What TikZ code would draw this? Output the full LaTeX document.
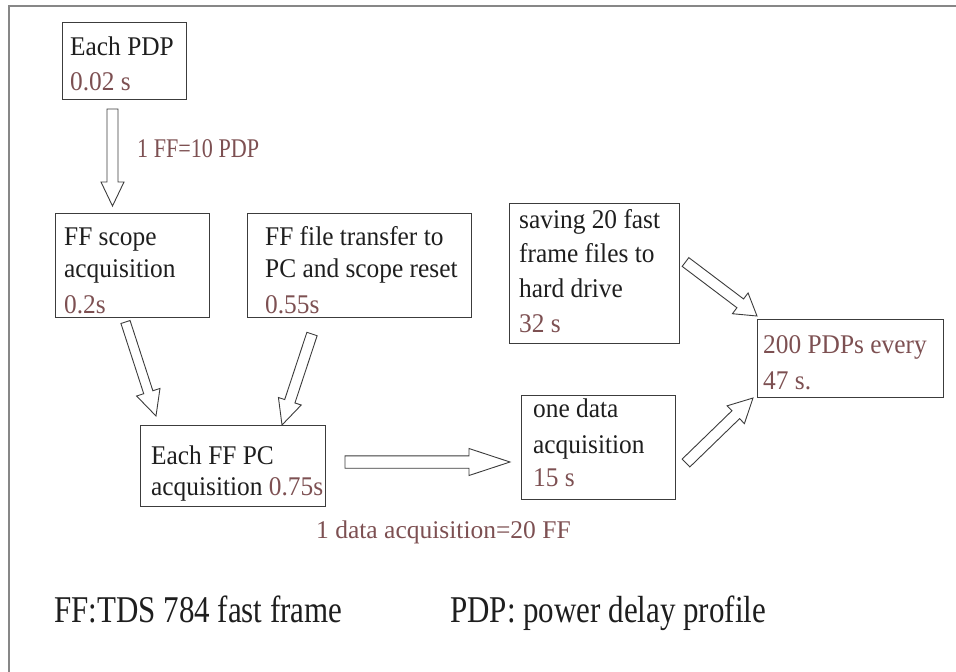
\documentclass[tikz,border=0pt]{standalone}
\usepackage{fontspec}
\setmainfont{Liberation Serif}
\newfontfamily\boxfont[FakeStretch=0.94]{Liberation Serif}
\newfontfamily\labfont[FakeStretch=0.82]{Liberation Serif}
\usetikzlibrary{calc}
\definecolor{brn}{RGB}{125,80,82}
\definecolor{txt}{RGB}{30,30,30}
\definecolor{edge}{RGB}{60,60,60}
\definecolor{framec}{RGB}{135,135,135}
\newcommand\hollowarrow[5]{%
  \coordinate (ha-b) at ($(#2)!#5!(#1)$);
  \draw[arrowline] ($(#1)!#3!90:(#2)$) -- ($(ha-b)!#3!90:(#2)$) -- ($(ha-b)!#4!90:(#2)$) -- (#2)
    -- ($(ha-b)!#4!-90:(#2)$) -- ($(ha-b)!#3!-90:(#2)$) -- ($(#1)!#3!-90:(#2)$) -- cycle;
}
\begin{document}
\begin{tikzpicture}[x=1pt,y=-1pt,
  boxr/.style={draw=edge, line width=1.2pt, inner sep=0pt, anchor=north west},
  btxt/.style={anchor=base west, inner sep=0pt, font=\boxfont\fontsize{27}{30}\selectfont, text=txt},
  bval/.style={btxt, text=brn},
  labtxt/.style={anchor=base west, inner sep=0pt, font=\labfont\fontsize{27}{30}\selectfont, text=brn},
  foot/.style={anchor=base west, inner sep=0pt, font=\labfont\fontsize{37.8}{40}\selectfont, text=txt},
  arrowline/.style={draw=edge, line width=0.9pt, fill=white, line join=miter},
  framel/.style={draw=framec, line width=2pt}
]
\useasboundingbox (0,0) rectangle (956,672);
\draw[framel] (957,6) -- (9,6) -- (9,673);

% boxes
\node[boxr, minimum width=124pt, minimum height=77pt] (b1) at (62,22) {};
\node[boxr, minimum width=154pt, minimum height=104pt] (b2) at (55,213) {};
\node[boxr, minimum width=224pt, minimum height=104pt] (b3) at (247,213) {};
\node[boxr, minimum width=185pt, minimum height=81pt] (b4) at (140,425) {};
\node[boxr, minimum width=154pt, minimum height=104pt] (b5) at (521,395) {};
\node[boxr, minimum width=170pt, minimum height=140pt] (b6) at (509,203) {};
\node[boxr, minimum width=186pt, minimum height=78pt] (b7) at (757,319) {};

% box texts
\node[btxt] (t1a) at (70,55) {Each PDP};
\node[bval] (t1b) at (70,90) {0.02 s};
\node[btxt] (t2a) at (64,245) {FF scope};
\node[btxt] (t2b) at (64,277) {acquisition};
\node[bval] (t2c) at (64,313) {0.2s};
\node[btxt] (t3a) at (265,245) {FF file transfer to};
\node[btxt] (t3b) at (265,277) {PC and scope reset};
\node[bval] (t3c) at (265,313) {0.55s};
\node[btxt] (t4a) at (151,464) {Each FF PC};
\node[btxt] (t4b) at (151,495) {acquisition \textcolor{brn}{0.75s}};
\node[btxt] (t5a) at (533,417) {one data};
\node[btxt] (t5b) at (533,453) {acquisition};
\node[bval] (t5c) at (533,486) {15 s};
\node[btxt] (t6a) at (519,228) {saving 20 fast};
\node[btxt] (t6b) at (519,262) {frame files to};
\node[btxt] (t6c) at (519,297) {hard drive};
\node[bval] (t6d) at (519,332) {32 s};
\node[bval] (t7a) at (763,353) {200 PDPs every};
\node[bval] (t7b) at (763,389) {47 s.};

% labels
\node[labtxt] (l1) at (137,157) {1 FF=10 PDP};
\node[anchor=base west, inner sep=0pt, font=\fontsize{25.5}{28}\selectfont, text=brn] (l2) at (316,538) {1 data acquisition=20 FF};
\node[foot] (f1) at (54,622) {FF:TDS 784 fast frame};
\node[foot] (f2) at (450,622) {PDP: power delay profile};

% arrow end points
\coordinate (a1s) at (112.5,109);  \coordinate (a1e) at (112.5,206);
\coordinate (a2s) at (125.5,322);  \coordinate (a2e) at (156,416);
\coordinate (a3s) at (312,334);    \coordinate (a3e) at (282,425);
\coordinate (a4s) at (345,462);    \coordinate (a4e) at (510,462);
\coordinate (a5s) at (685.5,262);  \coordinate (a5e) at (757,316);
\coordinate (a6s) at (686,463);    \coordinate (a6e) at (753,398);

\hollowarrow{a1s}{a1e}{5.5pt}{11.5pt}{24pt}
\hollowarrow{a2s}{a2e}{4.8pt}{12.3pt}{25pt}
\hollowarrow{a3s}{a3e}{5.4pt}{12pt}{25pt}
\hollowarrow{a4s}{a4e}{6.2pt}{13.5pt}{41pt}
\hollowarrow{a5s}{a5e}{5.5pt}{13pt}{21pt}
\hollowarrow{a6s}{a6e}{5.5pt}{12.4pt}{24pt}
\end{tikzpicture}
\end{document}
